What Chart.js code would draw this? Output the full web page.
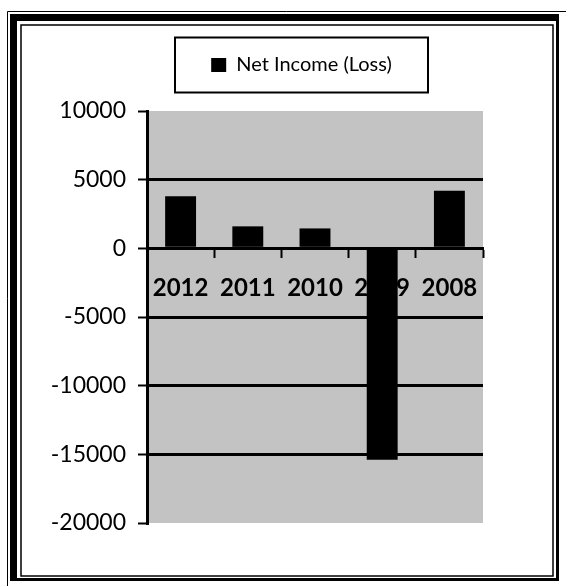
<!DOCTYPE html>
<html>
<head>
<meta charset="utf-8">
<title>Net Income (Loss)</title>
<script src="https://cdn.jsdelivr.net/npm/chart.js@4.4.0/dist/chart.umd.min.js"></script>
<style>
    html, body { margin: 0; padding: 0; background: #fff; }
    #wrap { position: relative; width: 568px; height: 587px; }
</style>
</head>
<body>
<div id="wrap"><canvas id="incomeChart"></canvas></div>
<script>
    // chart data
    var years = ['2012', '2011', '2010', '2009', '2008'];
    var netIncome = [3800, 1600, 1450, -15400, 4200];
    var yTicks = [-20000, -15000, -10000, -5000, 0, 5000, 10000];
    var seriesLabel = 'Net Income (Loss)';

    var yMin = yTicks[0];
    var yMax = yTicks[yTicks.length - 1];

    Chart.defaults.font.family = 'Lato, "Open Sans", sans-serif';
    Chart.defaults.color = '#000';

    // white page, double border and grey plot background
    var framePlugin = {
        id: 'frame',
        afterInit: function (chart) {
            // leave some room between the legend and the plot
            var legend = chart.legend;
            var fit = legend.fit;
            legend.fit = function () {
                fit.call(this);
                this.height += 26;
            };
        },
        beforeDraw: function (chart) {
            var ctx = chart.ctx;
            var a = chart.chartArea;
            ctx.save();
            ctx.fillStyle = '#fff';
            ctx.fillRect(0, 0, chart.width, chart.height);

            ctx.strokeStyle = '#000';
            ctx.lineWidth = 1;
            ctx.beginPath();
            ctx.moveTo(7.5, 586);
            ctx.lineTo(7.5, 11.5);
            ctx.lineTo(566, 11.5);
            ctx.stroke();

            ctx.fillStyle = '#000';
            ctx.fillRect(10, 14, 7, 567);
            ctx.fillRect(10, 14, 549, 7);
            ctx.fillRect(556, 14, 3, 567);
            ctx.fillRect(10, 578, 549, 3);

            ctx.lineWidth = 1.5;
            ctx.strokeRect(21, 25, 532, 551);

            ctx.fillStyle = '#c3c3c3';
            ctx.fillRect(a.left, a.top, a.right - a.left, a.bottom - a.top);
            ctx.restore();
        },
        afterDraw: function (chart) {
            // box around the legend entry
            var hit = chart.legend.legendHitBoxes[0];
            if (!hit) return;
            var cx = hit.left + hit.width / 2;
            var cy = hit.top + hit.height / 2;
            var ctx = chart.ctx;
            ctx.save();
            ctx.strokeStyle = '#000';
            ctx.lineWidth = 2;
            ctx.strokeRect(cx - 126.5, cy - 27.5, 253, 55);
            ctx.restore();
        }
    };

    var ctx = document.getElementById('incomeChart').getContext('2d');
    var incomeChart = new Chart(ctx, {
        type: 'bar',
        data: {
            labels: years,
            datasets: [{
                label: seriesLabel,
                data: netIncome,
                backgroundColor: '#000',
                borderWidth: 0,
                barPercentage: 0.46,
                categoryPercentage: 1
            }]
        },
        options: {
            responsive: true,
            maintainAspectRatio: false,
            animation: false,
            layout: {
                padding: { left: 35, right: 0, top: 45, bottom: 64 }
            },
            plugins: {
                legend: {
                    position: 'top',
                    labels: {
                        boxWidth: 15,
                        boxHeight: 14,
                        padding: 10,
                        color: '#000',
                        font: { size: 20 }
                    }
                },
                tooltip: { enabled: false }
            },
            scales: {
                x: {
                    position: { y: 0 },
                    offset: true,
                    grid: {
                        display: true,
                        drawOnChartArea: false,
                        offset: true,
                        tickLength: 8,
                        tickColor: '#000',
                        tickWidth: 2
                    },
                    border: { display: true, color: '#000', width: 3 },
                    ticks: {
                        color: '#000',
                        font: { size: 24, weight: 'bold' },
                        padding: 18,
                        maxRotation: 0,
                        autoSkip: false
                    }
                },
                y: {
                    min: yMin,
                    max: yMax,
                    afterBuildTicks: function (axis) {
                        axis.ticks = yTicks.map(function (v) { return { value: v }; });
                    },
                    afterFit: function (axis) {
                        axis.width = 112;
                    },
                    grid: {
                        color: function (c) {
                            var v = c.tick ? c.tick.value : null;
                            return (v === yMin || v === yMax) ? 'rgba(0,0,0,0)' : '#000';
                        },
                        lineWidth: 3,
                        tickLength: 9,
                        tickColor: '#000',
                        tickWidth: 2
                    },
                    border: { display: true, color: '#000', width: 3 },
                    ticks: {
                        color: '#000',
                        font: { size: 23 },
                        padding: 12,
                        callback: function (value) { return String(value); }
                    }
                },
                // empty axis on the right, keeps the plot narrower than the legend row
                yPad: {
                    position: 'right',
                    grid: { display: false },
                    border: { display: false },
                    ticks: { display: false },
                    afterFit: function (axis) {
                        axis.width = 85;
                    }
                }
            }
        },
        plugins: [framePlugin]
    });
</script>
</body>
</html>
